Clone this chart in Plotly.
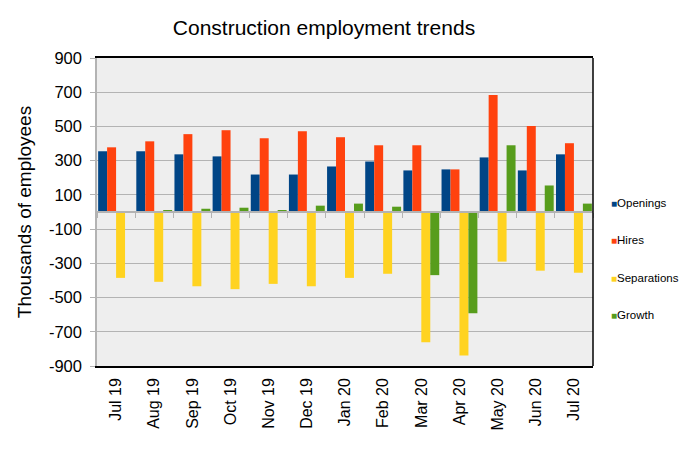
import plotly.graph_objects as go

months = ["Jul 19", "Aug 19", "Sep 19", "Oct 19", "Nov 19", "Dec 19", "Jan 20",
          "Feb 20", "Mar 20", "Apr 20", "May 20", "Jun 20", "Jul 20"]
openings = [355, 355, 337, 325, 219, 219, 266, 295, 243, 249, 319, 243, 337]
hires = [378, 413, 455, 478, 431, 472, 437, 390, 390, 249, 684, 502, 402]
separations = [-385, -408, -434, -451, -420, -434, -385, -361, -761, -838, -290, -343, -355]
growth = [0, 8, 19, 25, 8, 37, 49, 31, -369, -592, 390, 155, 49]

y_tickvals = [900, 700, 500, 300, 100, -100, -300, -500, -700, -900]
y_ticktext = ["900", "700", "500", "300", "100", "-100", "-300", "-500", "-700", "-900"]

series_names = ["Openings", "Hires", "Separations", "Growth"]
series_values = [openings, hires, separations, growth]
series_colors = ["#004586", "#ff420e", "#ffd320", "#579d1c"]

FONT = "Liberation Sans, Arial, sans-serif"

# page body has an 8px default margin, so the figure is sized to fit the window
W, H = 688, 442
ML, MR, MT, MB = 89, 103, 50, 84
PW, PH = W - ML - MR, H - MT - MB

fig = go.Figure()
for name, vals, col in zip(series_names, series_values, series_colors):
    fig.add_trace(go.Bar(x=months, y=vals, name=name, marker_color=col,
                         marker_line_width=0, showlegend=False))

# helper axis to draw the category line + boundary ticks at y = 0
fig.add_trace(go.Scatter(x=months, y=[0] * len(months), mode="markers",
                         marker=dict(opacity=0), showlegend=False,
                         hoverinfo="skip", xaxis="x2"))

# legend drawn as text entries (coloured square + name)
legend_top, legend_step = 145, 37.3   # px below plot top
annotations = []
for i, (name, col) in enumerate(zip(series_names, series_colors)):
    ypx = legend_top + i * legend_step
    annotations.append(dict(
        xref="paper", yref="paper", x=1 + 16 / PW, y=1 - ypx / PH,
        xanchor="left", yanchor="middle", showarrow=False,
        text=f'<span style="color:{col};font-size:10px">■</span>{name}',
        font=dict(size=11.5, family=FONT, color="black")))

fig.update_layout(
    width=W, height=H,
    margin=dict(l=ML, r=MR, t=MT, b=MB),
    paper_bgcolor="white", plot_bgcolor="#eeeeee",
    font=dict(family=FONT, color="black"),
    barmode="group", bargap=0.06, bargroupgap=0,
    showlegend=False,
    title=dict(text="Construction employment trends", x=316 / W, xref="container",
               xanchor="center", y=1 - 20 / H, yref="container", yanchor="middle",
               font=dict(size=21, family=FONT)),
    xaxis=dict(type="category", range=[-0.5, len(months) - 0.5],
               showline=True, linecolor="black", linewidth=1.5,
               mirror=True, ticks="", tickangle=-90, tickfont=dict(size=16),
               ticklabelstandoff=4, showgrid=False, zeroline=False),
    xaxis2=dict(type="category", overlaying="x", anchor="free", position=0.5,
                range=[-0.5, len(months) - 0.5],
                showline=True, linecolor="#b3b3b3", linewidth=1.5, ticks="outside",
                ticklen=5, tickcolor="#b3b3b3", tickson="boundaries",
                showticklabels=False, showgrid=False, zeroline=False),
    yaxis=dict(range=[-900, 900], tickvals=y_tickvals, ticktext=y_ticktext,
               showgrid=True, gridcolor="#b3b3b3", gridwidth=1.2, zeroline=False,
               showline=True, linecolor="#b3b3b3", linewidth=1.5,
               ticks="outside", ticklen=5, tickcolor="#b3b3b3",
               ticklabelstandoff=5, tickfont=dict(size=16.5),
               title=dict(text="Thousands of employees", font=dict(size=19), standoff=12)),
    annotations=annotations,
    shapes=[dict(type="line", xref="paper", yref="paper", x0=1, x1=1, y0=0, y1=1,
                 line=dict(color="black", width=1.5))],
)

fig.write_html("out.html")
